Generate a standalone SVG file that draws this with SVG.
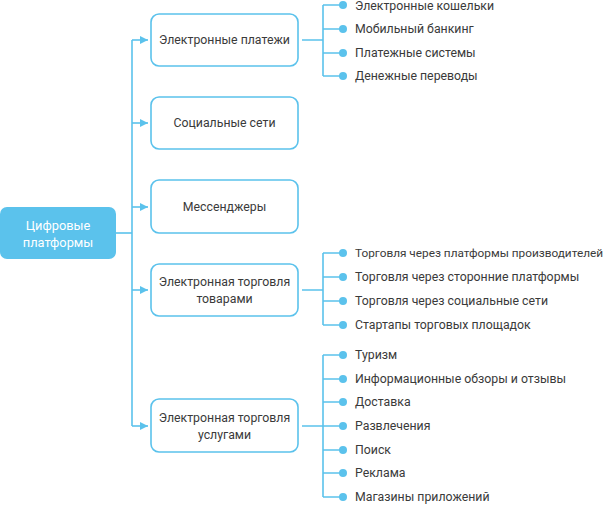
<svg xmlns="http://www.w3.org/2000/svg" width="609" height="505" viewBox="0 0 609 505">
<style>
.box{fill:#fff;stroke:#5bc2ec;stroke-width:1.6}
.root{fill:#5bc2ec}
.t{font-family:Roboto,"Liberation Sans",sans-serif;font-size:12.3px;fill:#3a3a3a;text-anchor:middle;dominant-baseline:central}
.rt{font-family:Roboto,"Liberation Sans",sans-serif;font-size:12.8px;fill:#fff;text-anchor:middle;dominant-baseline:central}
.li{font-family:Roboto,"Liberation Sans",sans-serif;font-size:12.3px;fill:#3a3a3a;dominant-baseline:central}
.ln{fill:none;stroke:#5bc2ec;stroke-width:1.6}
.dot{fill:#5bc2ec}
</style>
<defs>
<marker id="ah" viewBox="0 0 10 10" refX="10" refY="5" markerWidth="8" markerHeight="8" markerUnits="userSpaceOnUse" orient="auto"><path d="M0,0 L10,5 L0,10 z" fill="#5bc2ec"/></marker>
</defs>
<g id="connectors">
<path class="ln" d="M116,233 H132"/>
<path class="ln" d="M132,40 V426"/>
<path class="ln" d="M132,40 H148" marker-end="url(#ah)"/>
<path class="ln" d="M132,123 H148" marker-end="url(#ah)"/>
<path class="ln" d="M132,207 H148" marker-end="url(#ah)"/>
<path class="ln" d="M132,290 H148" marker-end="url(#ah)"/>
<path class="ln" d="M132,426 H148" marker-end="url(#ah)"/>
<path class="ln" d="M302,40 H323 M323,5 V76 M323,5 H343 M323,29 H343 M323,53 H343 M323,76 H343"/>
<path class="ln" d="M302,290 H323 M323,253 V325 M323,253 H343 M323,277 H343 M323,301 H343 M323,325 H343"/>
<path class="ln" d="M302,426 H323 M323,355 V497 M323,355 H343 M323,379 H343 M323,402 H343 M323,426 H343 M323,450 H343 M323,473 H343 M323,497 H343"/>
<g class="dot">
<circle cx="343" cy="5" r="4"/><circle cx="343" cy="29" r="4"/><circle cx="343" cy="53" r="4"/><circle cx="343" cy="76" r="4"/>
<circle cx="343" cy="253" r="4"/><circle cx="343" cy="277" r="4"/><circle cx="343" cy="301" r="4"/><circle cx="343" cy="325" r="4"/>
<circle cx="343" cy="355" r="4"/><circle cx="343" cy="379" r="4"/><circle cx="343" cy="402" r="4"/><circle cx="343" cy="426" r="4"/><circle cx="343" cy="450" r="4"/><circle cx="343" cy="473" r="4"/><circle cx="343" cy="497" r="4"/>
</g>
</g>
<g id="root">
<rect class="root" x="0" y="207" width="116" height="52" rx="7"/>
<text class="rt" x="58" y="225">Цифровые</text>
<text class="rt" x="58" y="242">платформы</text>
</g>
<g id="n1">
<rect class="box" x="151" y="14" width="147" height="52" rx="8"/>
<text class="t" x="224.5" y="40">Электронные платежи</text>
</g>
<g id="n2">
<rect class="box" x="151" y="97" width="147" height="52" rx="8"/>
<text class="t" x="224.5" y="123">Социальные сети</text>
</g>
<g id="n3">
<rect class="box" x="151" y="180" width="147" height="53" rx="8"/>
<text class="t" x="224.5" y="207">Мессенджеры</text>
</g>
<g id="n4">
<rect class="box" x="151" y="264" width="147" height="52" rx="8"/>
<text class="t" x="224.5" y="282">Электронная торговля</text>
<text class="t" x="224.5" y="299">товарами</text>
</g>
<g id="n5">
<rect class="box" x="151" y="399" width="147" height="53" rx="8"/>
<text class="t" x="224.5" y="418">Электронная торговля</text>
<text class="t" x="224.5" y="435">услугами</text>
</g>
<g id="list1">
<text class="li" x="355" y="6">Электронные кошельки</text>
<text class="li" x="355" y="29">Мобильный банкинг</text>
<text class="li" x="355" y="53">Платежные системы</text>
<text class="li" x="355" y="76">Денежные переводы</text>
</g>
<g id="list2">
<text class="li" x="355" y="253" style="font-size:11.8px">Торговля через платформы производителей</text>
<text class="li" x="355" y="277">Торговля через сторонние платформы</text>
<text class="li" x="355" y="301">Торговля через социальные сети</text>
<text class="li" x="355" y="325">Стартапы торговых площадок</text>
</g>
<g id="list3">
<text class="li" x="355" y="355">Туризм</text>
<text class="li" x="355" y="379">Информационные обзоры и отзывы</text>
<text class="li" x="355" y="402">Доставка</text>
<text class="li" x="355" y="426">Развлечения</text>
<text class="li" x="355" y="450">Поиск</text>
<text class="li" x="355" y="473">Реклама</text>
<text class="li" x="355" y="497">Магазины приложений</text>
</g>
</svg>
